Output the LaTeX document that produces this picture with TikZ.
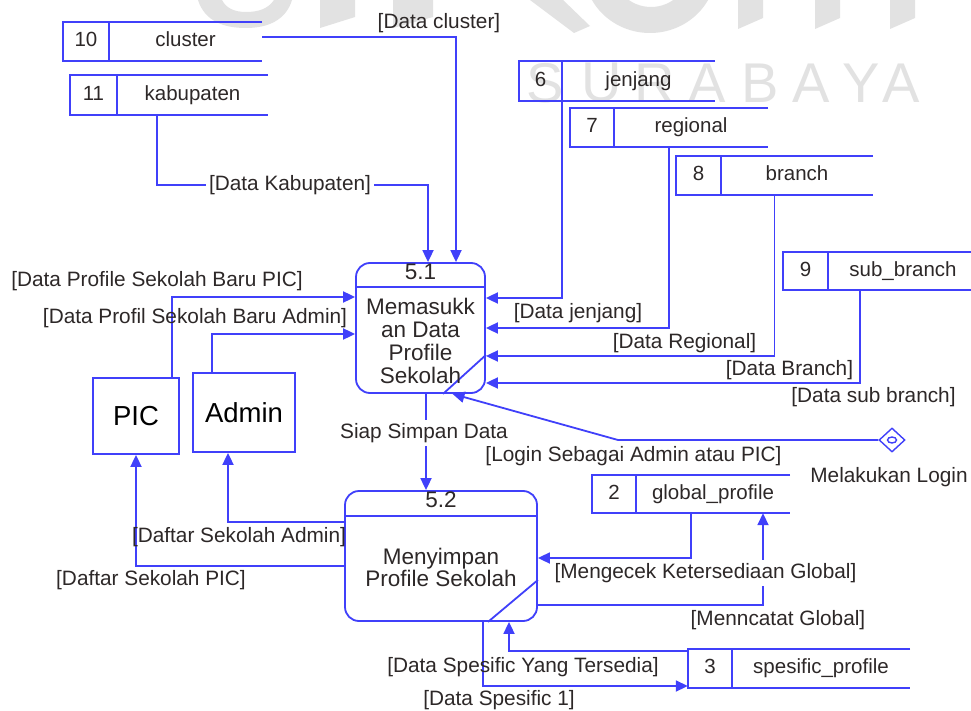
\documentclass[tikz,border=0pt]{standalone}
\usepackage{fontspec}
\setmainfont{Liberation Sans}
\usetikzlibrary{arrows.meta,fit,calc,shapes.geometric}

\definecolor{dfdblue}{RGB}{64,64,250}
\definecolor{dfdtext}{RGB}{45,40,40}
\definecolor{wmgray}{RGB}{226,226,226}

\tikzset{
  line/.style={draw=dfdblue, line width=1.8pt},
  flow/.style={line, -{Triangle[length=12pt,width=11pt]}},
  lbl/.style={text=dfdtext, font=\fontsize{20.8}{24}\selectfont, inner sep=0pt,
              text height=15pt, text depth=4.4pt},
  gap/.style={lbl, fill=white, inner xsep=3pt, inner ysep=3pt},
  storetext/.style={lbl, font=\fontsize{20.5}{24}\selectfont},
  proc/.style={line, rounded corners=14pt, inner sep=0pt},
  proctext/.style={text=dfdtext, font=\fontsize{22.5}{22.7}\selectfont, align=center, inner sep=0pt},
  ent/.style={line, inner sep=0pt, text=black, font=\fontsize{27.5}{30}\selectfont},
  wm/.style={text=wmgray, font=\fontsize{56}{60}\selectfont, inner sep=0pt},
}

% data store: name, left x, top y, divider x, right x, bottom y, number, title
\newcommand\dstore[8]{%
  \node[fit={(#2,#3) (#5,#6)}, inner sep=0pt] (#1) {};
  \draw[line] (#1.north east) -- (#1.north west) -- (#1.south west) -- (#1.south east);
  \draw[line] (#4,#3) -- (#4,#6);
  \node[storetext] (#1-num) at ($(#2,#3)!0.5!(#4,#6)$) {#7};
  \node[storetext] (#1-name) at ($(#4,#3)!0.5!(#5,#6)$) {#8};
}

\begin{document}
\begin{tikzpicture}[x=1pt,y=-1pt]
\useasboundingbox (0,0) rectangle (971,711);
\fill[white] (0,0) rectangle (971,711);

% ---- background watermark ----
\begin{scope}[fill=wmgray]
  \fill (198,0) .. controls (205,22) and (225,28) .. (246,28)
        .. controls (268,28) and (286,20) .. (292,0) -- (274,0)
        .. controls (268,9) and (258,12) .. (246,12)
        .. controls (234,12) and (226,8) .. (222,0) -- cycle;
  \fill (320,0) -- (355,0) -- (355,17) -- (320,28) -- cycle;
  \fill (393,0) -- (433,0) -- (433,17) -- (393,28) -- cycle;
  \fill (530,0) -- (563,0) -- (590,26) -- (574,33) -- cycle;
  \fill[even odd rule] (650,-30) ellipse [x radius=66pt, y radius=63pt]
                       (651,-30) ellipse [x radius=38pt, y radius=37pt];
  \fill (738,0) -- (763,0) -- (763,18) -- (738,29) -- cycle;
  \fill (815,0) -- (840,0) -- (840,18) -- (815,29) -- cycle;
  \fill (890,0) -- (915,0) -- (915,18) -- (890,29) -- cycle;
\end{scope}
\foreach \ch/\xx in {S/545,U/602,R/655,A/707,B/760,A/811,Y/861,A/901}
  \node[wm] at (\xx,83) {\ch};

% ---- data stores ----
\dstore{cluster}{63}{22}{109}{262}{61}{10}{cluster}
\dstore{kabupaten}{70}{75}{117}{268}{115}{11}{kabupaten}
\dstore{jenjang}{519}{61}{562}{715}{101}{6}{jenjang}
\dstore{regional}{570}{108}{614}{768}{147}{7}{regional}
\dstore{branch}{676}{156}{721}{873}{195}{8}{branch}
\dstore{subbranch}{783}{252}{828}{978}{290}{9}{sub\_branch}
\dstore{global}{592}{475}{636}{790}{513}{2}{global\_profile}
\dstore{spesific}{688}{649}{732}{910}{688}{3}{spesific\_profile}

% ---- processes ----
\node[proc, minimum width=129pt, minimum height=130pt] (p51) at (420.5,328) {};
\draw[line] ([yshift=-25pt]p51.north west) -- ([yshift=-25pt]p51.north east);
\draw[line] ([xshift=22.5pt]p51.south) -- ([yshift=-27pt]p51.east);
\node[lbl, font=\fontsize{22.5}{24}\selectfont] (p51-id) at ([yshift=-12pt]p51.north) {5.1};
\node[proctext] (p51-txt) at (420.5,341) {Memasukk\\an Data\\Profile\\Sekolah};

\node[proc, minimum width=192pt, minimum height=130pt] (p52) at (441,556) {};
\draw[line] ([yshift=-26pt]p52.north west) -- ([yshift=-26pt]p52.north east);
\draw[line] ([xshift=47pt]p52.south) -- ([yshift=-24pt]p52.east);
\node[lbl, font=\fontsize{22.5}{24}\selectfont] (p52-id) at ([yshift=-12pt]p52.north) {5.2};
\node[proctext] (p52-txt) at (441,567.5) {Menyimpan\\Profile Sekolah};

% ---- external entities ----
\node[ent, minimum width=86pt, minimum height=76pt] (pic) at (136,416) {PIC};
\node[ent, minimum width=102pt, minimum height=79pt] (admin) at (244,412.5) {Admin};

% ---- login event ----
\node[line, shape=diamond, minimum width=26pt, minimum height=24pt, inner sep=0pt,
      line width=1.4pt] (login) at (892,440) {};
\draw[line, line width=1.4pt] (login.center) ellipse [x radius=4.5pt, y radius=3pt];
\coordinate (login-bend) at (618,440);

% ---- flows into 5.1 ----
\draw[flow] ([yshift=4.5pt]cluster.east) -| ([xshift=35.5pt]p51.north);
\draw[flow] ([xshift=-12pt]kabupaten.south) -- ++(0,70) -| ([xshift=7.5pt]p51.north);
\draw[flow] ([xshift=36pt]pic.north) |- ([yshift=31pt]p51.west);
\draw[flow] ([xshift=-32pt]admin.north) |- ([yshift=-6pt]p51.west);
\draw[flow] ([xshift=-55pt]jenjang.south) |- ([yshift=30pt]p51.east);
\draw[flow] (regional.south) |- (p51.east);
\draw[flow] (branch.south) |- ([yshift=-28pt]p51.east);
\draw[flow] ([xshift=-20.5pt]subbranch.south) |- ([yshift=-55pt]p51.east);
\draw[flow] (login.west) -- (login-bend) -- ([xshift=32pt]p51.south);

% ---- 5.1 to 5.2 ----
\coordinate (siap-top) at ([xshift=5.5pt]p51.south);
\draw[flow] (siap-top) -- (siap-top |- p52.north);

% ---- flows out of / into 5.2 ----
\draw[flow] ([yshift=-10pt]p52.west) -| (pic.south);
\draw[flow] ([yshift=34pt]p52.west) -| ([xshift=-16pt]admin.south);
\draw[flow] (global.south) |- ([yshift=-2pt]p52.east);
\draw[flow] ([yshift=-49pt]p52.east) -| ([xshift=72pt]global.south);
\draw[flow] ([yshift=17.5pt]spesific.west) -| ([xshift=68pt]p52.south);
\draw[flow] ([xshift=42pt]p52.south) |- ([yshift=-17.5pt]spesific.west);

% ---- flow labels ----
\node[lbl] (l-cluster) at (439,23) {[Data cluster]};
\node[gap] (l-kab) at (290,185) {[Data Kabupaten]};
\node[lbl] (l-pic-in) at (157,281) {[Data Profile Sekolah Baru PIC]};
\node[lbl] (l-adm-in) at (195,318) {[Data Profil Sekolah Baru Admin]};
\node[lbl] (l-jenjang) at (578,313) {[Data jenjang]};
\node[lbl] (l-regional) at (684.5,343) {[Data Regional]};
\node[lbl] (l-branch) at (789.5,370) {[Data Branch]};
\node[lbl] (l-sub) at (873.5,397) {[Data sub branch]};
\node[lbl] (l-login) at (633.5,456) {[Login Sebagai Admin atau PIC]};
\node[lbl] (l-login-ev) at (889,477) {Melakukan Login};
\node[gap] (l-siap) at (424,433) {Siap Simpan Data};
\node[lbl] (l-adm-out) at (239,537) {[Daftar Sekolah Admin]};
\node[lbl] (l-pic-out) at (151,580) {[Daftar Sekolah PIC]};
\node[gap] (l-cek) at (705.5,573) {[Mengecek Ketersediaan Global]};
\node[lbl] (l-catat) at (778,620) {[Menncatat Global]};
\node[lbl] (l-tersedia) at (523,667) {[Data Spesific Yang Tersedia]};
\node[lbl] (l-spes1) at (499,700) {[Data Spesific 1]};
\end{tikzpicture}
\end{document}
